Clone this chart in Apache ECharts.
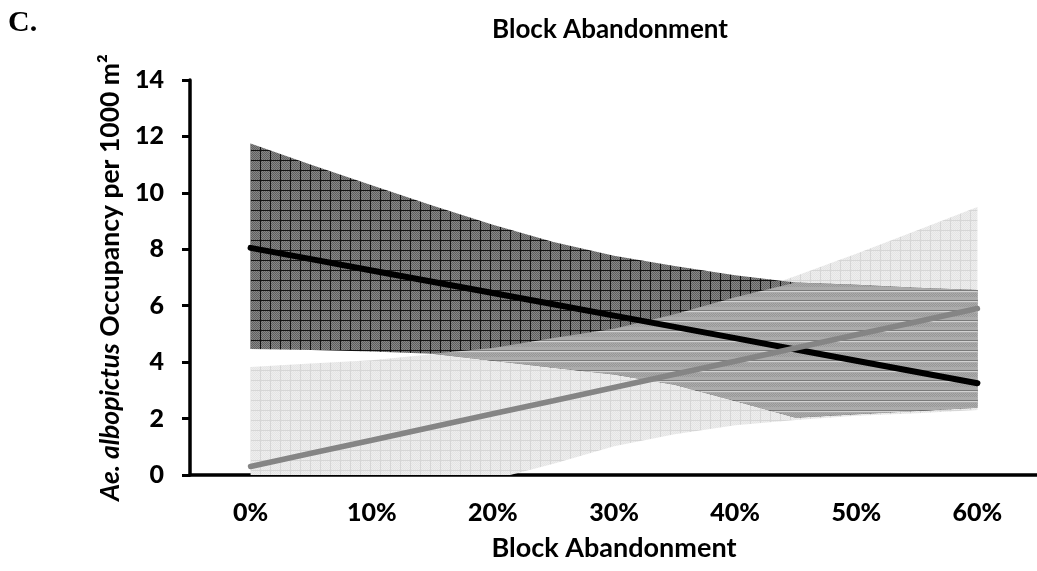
<!DOCTYPE html>
<html>
<head>
<meta charset="utf-8">
<script src="https://cdn.jsdelivr.net/npm/echarts@6/dist/echarts.min.js"></script>
<style>
  html, body { margin: 0; padding: 0; background: #ffffff; }
  #chart { width: 1037px; height: 571px; }
</style>
</head>
<body>
<div id="chart"></div>
<script>
// Abandonment levels (percent) at which the fitted models are evaluated
const pct = [0, 5, 10, 15, 20, 25, 30, 35, 40, 45, 50, 55, 60];
// Category labels along the x axis
const xLabels = ['0%', '10%', '20%', '30%', '40%', '50%', '60%'];

// Fitted occupancy (black model) and its confidence band
const blackFit  = [8.05, 7.65, 7.25, 6.85, 6.45, 6.05, 5.65, 5.25, 4.85, 4.45, 4.05, 3.65, 3.25];
const blackHigh = [11.75, 11.0, 10.27, 9.55, 8.87, 8.26, 7.77, 7.41, 7.08, 6.82, 6.74, 6.64, 6.56];
const blackLow  = [4.47, 4.43, 4.38, 4.3, 4.05, 3.8, 3.56, 3.2, 2.62, 2.03, 2.15, 2.27, 2.38];

// Fitted occupancy (grey model) and its confidence band
const greyFit  = [0.30, 0.77, 1.23, 1.70, 2.17, 2.63, 3.10, 3.57, 4.03, 4.50, 4.97, 5.43, 5.90];
const greyHigh = [3.83, 3.95, 4.07, 4.28, 4.5, 4.86, 5.18, 5.7, 6.3, 7.05, 7.84, 8.67, 9.5];
const greyLow  = [-3.23, -2.41, -1.61, -0.88, -0.16, 0.40, 1.02, 1.44, 1.76, 1.95, 2.10, 2.19, 2.30];

const FONT = 'Lato';

// Fine-grained hidden axis: one slot per evaluated level plus half a label step on each side
const step = pct[1] - pct[0];
const fineCats = [pct[0] - step].concat(pct, [pct[pct.length - 1] + step]).map(String);

function makePattern(paint) {
  const c = document.createElement('canvas');
  c.width = 10; c.height = 10;
  const g = c.getContext('2d');
  paint(g);
  return { image: c, repeat: 'repeat' };
}

// Dark cross-hatched fill
const darkFill = makePattern(g => {
  g.fillStyle = '#868686'; g.fillRect(0, 0, 10, 10);
  g.fillStyle = '#606060';
  for (let i = 0; i < 10; i++) for (let j = 0; j < 10; j++) if ((i + j) % 2 === 0) g.fillRect(i, j, 1, 1);
  g.fillStyle = '#111111'; g.fillRect(0, 0, 10, 1); g.fillRect(0, 0, 1, 10);
});
// Light grid fill
const lightFill = makePattern(g => {
  g.fillStyle = '#eeeeee'; g.fillRect(0, 0, 10, 10);
  g.fillStyle = '#e4e4e4';
  for (let i = 0; i < 10; i++) for (let j = 0; j < 10; j++) if ((i + j) % 2 === 0) g.fillRect(i, j, 1, 1);
  g.fillStyle = '#d6d6d6'; g.fillRect(0, 0, 10, 1); g.fillRect(0, 0, 1, 10);
});
// Fill where the two bands overlap
const overlapFill = makePattern(g => {
  g.fillStyle = '#ababab'; g.fillRect(0, 0, 10, 10);
  g.fillStyle = '#989898';
  for (let i = 0; i < 10; i++) for (let j = 3; j < 7; j++) if ((i + j) % 2 === 0) g.fillRect(i, j, 1, 1);
  g.fillStyle = '#7a7a7a'; g.fillRect(0, 0, 10, 1);
  g.fillStyle = '#d2d2d2'; g.fillRect(0, 1, 10, 1);
});

const pairs = arr => pct.map((p, i) => [String(p), arr[i]]);

// Overlap of the two bands, derived from the band limits
const ovLow = pct.map((_, i) => Math.max(blackLow[i], greyLow[i]));
const ovSpan = pct.map((_, i) => Math.max(0, Math.min(blackHigh[i], greyHigh[i]) - ovLow[i]));

function band(name, low, span, fill) {
  const common = {
    type: 'line', xAxisIndex: 1, stack: name, stackStrategy: 'all',
    symbol: 'none', silent: true, z: 1
  };
  return [
    Object.assign({}, common, { data: pairs(low), lineStyle: { opacity: 0, width: 0 } }),
    Object.assign({}, common, { data: pairs(span), lineStyle: { opacity: 0, width: 0 }, areaStyle: { color: fill, opacity: 1 } })
  ];
}

const chart = echarts.init(document.getElementById('chart'), null, { renderer: 'canvas' });

chart.setOption({
  animation: false,
  backgroundColor: '#ffffff',
  grid: { left: 190, top: 80, width: 848, bottom: 96, containLabel: false, outerBoundsMode: 'none' },
  graphic: [
    { type: 'text', left: 8, top: 8, style: { text: 'C.', font: 'bold 30px "Liberation Serif"', fill: '#000' } },
    { type: 'text', x: 610, y: 30, style: { text: 'Block Abandonment', font: 'bold 26px ' + FONT, fill: '#000', align: 'center', verticalAlign: 'middle' } }
  ],
  xAxis: [
    {
      type: 'category', data: xLabels, boundaryGap: true,
      axisLine: { onZero: false, lineStyle: { color: '#000', width: 3.5 } },
      axisTick: { inside: true, length: 6, lineStyle: { color: '#000', width: 2.5 } },
      axisLabel: { margin: 25, fontFamily: FONT, fontWeight: 900, fontSize: 25, color: '#000' },
      splitLine: { show: false },
      name: 'Block Abandonment', nameLocation: 'middle', nameGap: 60,
      nameTextStyle: { fontFamily: FONT, fontWeight: 'bold', fontSize: 27, color: '#000' }
    },
    {
      type: 'category', data: fineCats, boundaryGap: false, show: false,
      axisLine: { onZero: false }
    }
  ],
  yAxis: {
    type: 'value', min: 0, max: 14, interval: 2,
    axisLine: { show: true, onZero: false, lineStyle: { color: '#000', width: 3.5 } },
    axisTick: { show: true, length: 8, lineStyle: { color: '#000', width: 3 } },
    axisLabel: { margin: 26, fontFamily: FONT, fontWeight: 900, fontSize: 25, color: '#000' },
    splitLine: { show: false },
    name: '{i|Ae. albopictus} Occupancy per 1000 m²', nameLocation: 'middle', nameGap: 57,
    nameTextStyle: {
      fontFamily: FONT, fontWeight: 'bold', fontSize: 26.5, color: '#000',
      rich: { i: { fontFamily: FONT, fontWeight: 'bold', fontStyle: 'italic', fontSize: 26.5, color: '#000' } }
    }
  },
  series: [
    ...band('grey', greyLow, greyHigh.map((v, i) => v - greyLow[i]), lightFill),
    ...band('black', blackLow, blackHigh.map((v, i) => v - blackLow[i]), darkFill),
    ...band('both', ovLow, ovSpan, overlapFill),
    {
      type: 'line', xAxisIndex: 1, data: pairs(blackFit), symbol: 'none', z: 3, silent: true,
      lineStyle: { color: '#000000', width: 6, cap: 'round' }
    },
    {
      type: 'line', xAxisIndex: 1, data: pairs(greyFit), symbol: 'none', z: 4, silent: true,
      lineStyle: { color: '#858585', width: 5.5, cap: 'round' }
    }
  ]
});
</script>
</body>
</html>
